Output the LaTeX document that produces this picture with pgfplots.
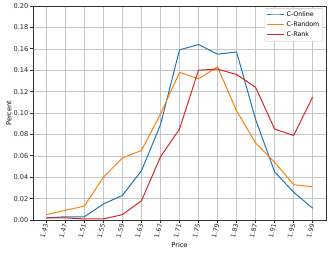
\documentclass[border=0pt]{standalone}
\usepackage{pgfplots}
\pgfplotsset{compat=1.18}
\usepackage{fontspec}
\setmainfont{DejaVu Sans}
\definecolor{tabblue}{HTML}{1F77B4}
\definecolor{taborange}{HTML}{FF7F0E}
\definecolor{tabred}{HTML}{D62728}
\begin{document}
\begin{tikzpicture}
\begin{axis}[
  scale only axis,
  width=293pt, height=214pt,
  xmin=-0.7, xmax=14.7,
  ymin=0, ymax=0.2,
  xtick={0,...,14},
  xticklabels={1.43,1.47,1.51,1.55,1.59,1.63,1.67,1.71,1.75,1.79,1.83,1.87,1.91,1.95,1.99},
  ytick={0,0.02,...,0.2},
  yticklabel style={/pgf/number format/fixed,/pgf/number format/fixed zerofill,/pgf/number format/precision=2},
  /pgf/number format/assume math mode=true,
  scaled y ticks=false,
  tick label style={font=\fontsize{6.6}{7.5}\selectfont, text=black!85},
  xticklabel style={rotate=75, anchor=east, inner sep=1pt, font=\fontsize{6.3}{7}\selectfont},
  yticklabel style={inner sep=1.5pt},
  label style={font=\fontsize{6.6}{7.5}\selectfont},
  xlabel={Price}, ylabel={Percent},
  xlabel style={yshift=1pt},
  ylabel style={yshift=-3pt},
  grid=major,
  grid style={gray!45, line width=0.6pt},
  axis line style={black!80, line width=0.8pt},
  tick style={black!80, line width=0.7pt},
  major tick length=3pt,
  tick align=outside,
  xtick pos=bottom, ytick pos=left,
  legend style={font=\fontsize{6.3}{7}\selectfont, draw=gray!50, rounded corners=1pt, inner sep=1.5pt, row sep=-0.5pt, at={(0.99,0.99)}, anchor=north east},
  legend cell align=left,
  every axis plot/.append style={line width=1pt},
]
\addplot[tabblue] coordinates {(0,0.002)(1,0.003)(2,0.003)(3,0.015)(4,0.023)(5,0.046)(6,0.089)(7,0.159)(8,0.164)(9,0.155)(10,0.157)(11,0.094)(12,0.045)(13,0.026)(14,0.011)};
\addlegendentry{C-Online}
\addplot[taborange] coordinates {(0,0.005)(1,0.009)(2,0.013)(3,0.040)(4,0.058)(5,0.065)(6,0.099)(7,0.138)(8,0.132)(9,0.143)(10,0.102)(11,0.072)(12,0.054)(13,0.033)(14,0.031)};
\addlegendentry{C-Random}
\addplot[tabred] coordinates {(0,0.002)(1,0.002)(2,0.001)(3,0.001)(4,0.005)(5,0.018)(6,0.059)(7,0.085)(8,0.140)(9,0.141)(10,0.136)(11,0.124)(12,0.085)(13,0.079)(14,0.115)};
\addlegendentry{C-Rank}
\end{axis}
\path[use as bounding box] (-33pt,-35pt) rectangle (299pt,220pt);
\end{tikzpicture}
\end{document}
